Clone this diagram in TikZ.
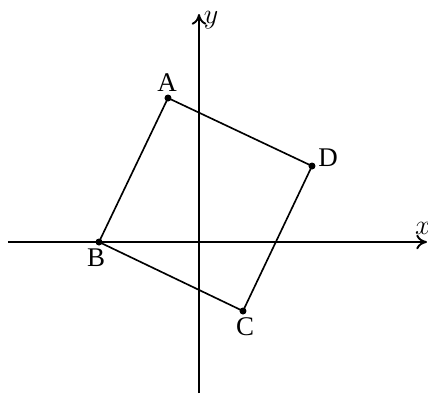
\documentclass[tikz,border=0pt]{standalone}
\usepackage{fontspec}
\setmainfont{Liberation Serif}
\usepackage{tikz}
\usetikzlibrary{arrows.meta,positioning}

\begin{document}
\begin{tikzpicture}[
    x=0.15mm, y=0.15mm,
    axis/.style={line width=0.8pt, -{To[length=1.6mm,width=2.2mm]}},
    side/.style={line width=0.7pt},
    dot/.style={circle, fill=black, inner sep=0pt, minimum size=1.05mm},
    lbl/.style={font=\fontsize{11.5}{13}\selectfont, inner sep=0pt}
]
    \useasboundingbox (-199,-151) rectangle (229,242);
    % axes
    \coordinate (xl) at (-191,0);
    \coordinate (xr) at (228,0);
    \coordinate (yb) at (0,-151);
    \coordinate (yt) at (0,228);
    \draw[axis] (xl) -- (xr);
    \draw[axis] (yb) -- (yt);
    \node[lbl] (xlab) at (224,14) {$x$};
    \node[lbl] (ylab) at (12,222) {$y$};
    % square ABCD
    \node[dot] (A) at (-31,144) {};
    \node[dot] (D) at (113,76) {};
    \node[dot] (C) at (44,-69) {};
    \node[dot] (B) at (-100,0) {};
    \draw[side] (A.center) -- (D.center) -- (C.center) -- (B.center) -- cycle;
    \node[lbl] (la) at (-32,159) {A};
    \node[lbl] (ld) at (129,84) {D};
    \node[lbl] (lc) at (46,-85) {C};
    \node[lbl] (lb) at (-103,-16) {B};
\end{tikzpicture}
\end{document}
